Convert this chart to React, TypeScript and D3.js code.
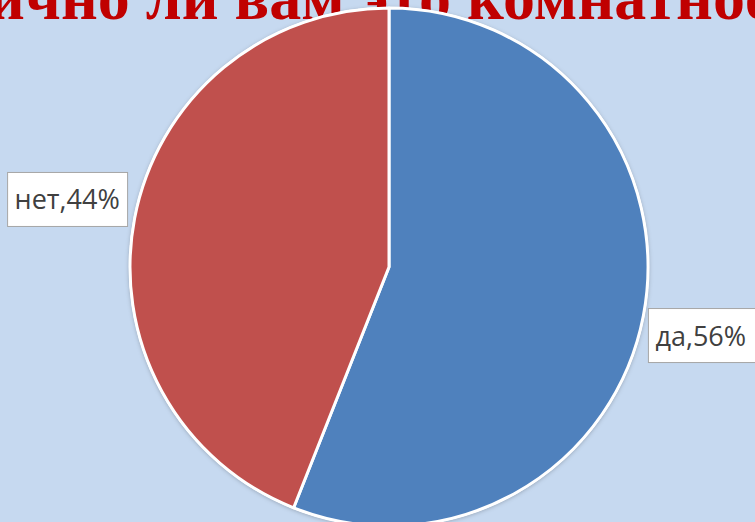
import React, { useEffect, useRef, useState } from "react";
import * as d3 from "d3";

const categories = ["да", "нет"];
const values = [56, 44];
const colors = ["#4f81bd", "#c0504d"];
const titleText = "Симпатично ли вам это комнатное растение?";
const titleAnchorWord = "комнатное";

const W = 755;
const H = 522;

export default function App() {
  const titleRef = useRef<SVGTextElement>(null);
  const [offset, setOffset] = useState(0);
  useEffect(() => {
    const el = titleRef.current;
    if (el) {
      const idx = titleText.indexOf(titleAnchorWord);
      setOffset(el.getSubStringLength(0, idx));
    }
  }, []);

  const cx = 389, cy = 267, r = 259;
  const pie = d3.pie<number>().sort(null).value((d) => d);
  const arcs = pie(values);
  const arc = d3.arc<d3.PieArcDatum<number>>().innerRadius(0).outerRadius(r);
  const fontTitle = "'Liberation Serif', 'Times New Roman', serif";
  const titleSize = 64;

  return (
    <svg width={W} height={H} style={{ position: "absolute", left: 0, top: 0, background: "#c6d9f0" }}>
      <defs>
        <filter id="sh" x="-10%" y="-10%" width="120%" height="120%">
          <feDropShadow dx="0" dy="1" stdDeviation="2" floodColor="#000" floodOpacity="0.25" />
        </filter>
      </defs>
      <rect width={W} height={H} fill="#c6d9f0" />
      <text ref={titleRef} x={467 - offset} y={19} fontFamily={fontTitle} fontWeight="bold" fontSize={titleSize} fill="#c00000">
        {titleText}
      </text>
      <g transform={`translate(${cx},${cy})`}>
        <circle r={r + 1} fill="#fff" filter="url(#sh)" />
        {arcs.map((a, i) => (
          <path key={i} d={arc(a) || ""} fill={colors[i]} stroke="#fff" strokeWidth={3} strokeLinejoin="round" />
        ))}
        {arcs.map((a, i) => {
          const mid = (a.startAngle + a.endAngle) / 2;
          const px = r * Math.sin(mid);
          const py = -r * Math.cos(mid);
          const label = `${categories[i]},${values[i]}%`;
          const bw = i === 0 ? 112 : 120;
          const bh = 54;
          const right = px > 0;
          const bx = right ? px + 5 : px - 7 - bw;
          const by = right ? py - 7 : py - 46;
          return (
            <g key={"l" + i}>
              <rect x={bx} y={by} width={bw} height={bh} fill="#fff" stroke="#a6a6a6" strokeWidth={1} />
              <text x={bx + 7} y={by + bh / 2 + 10} fontFamily="'Open Sans', 'Noto Sans', sans-serif" fontSize={27} fill="#404040">
                {label}
              </text>
            </g>
          );
        })}
      </g>
    </svg>
  );
}
